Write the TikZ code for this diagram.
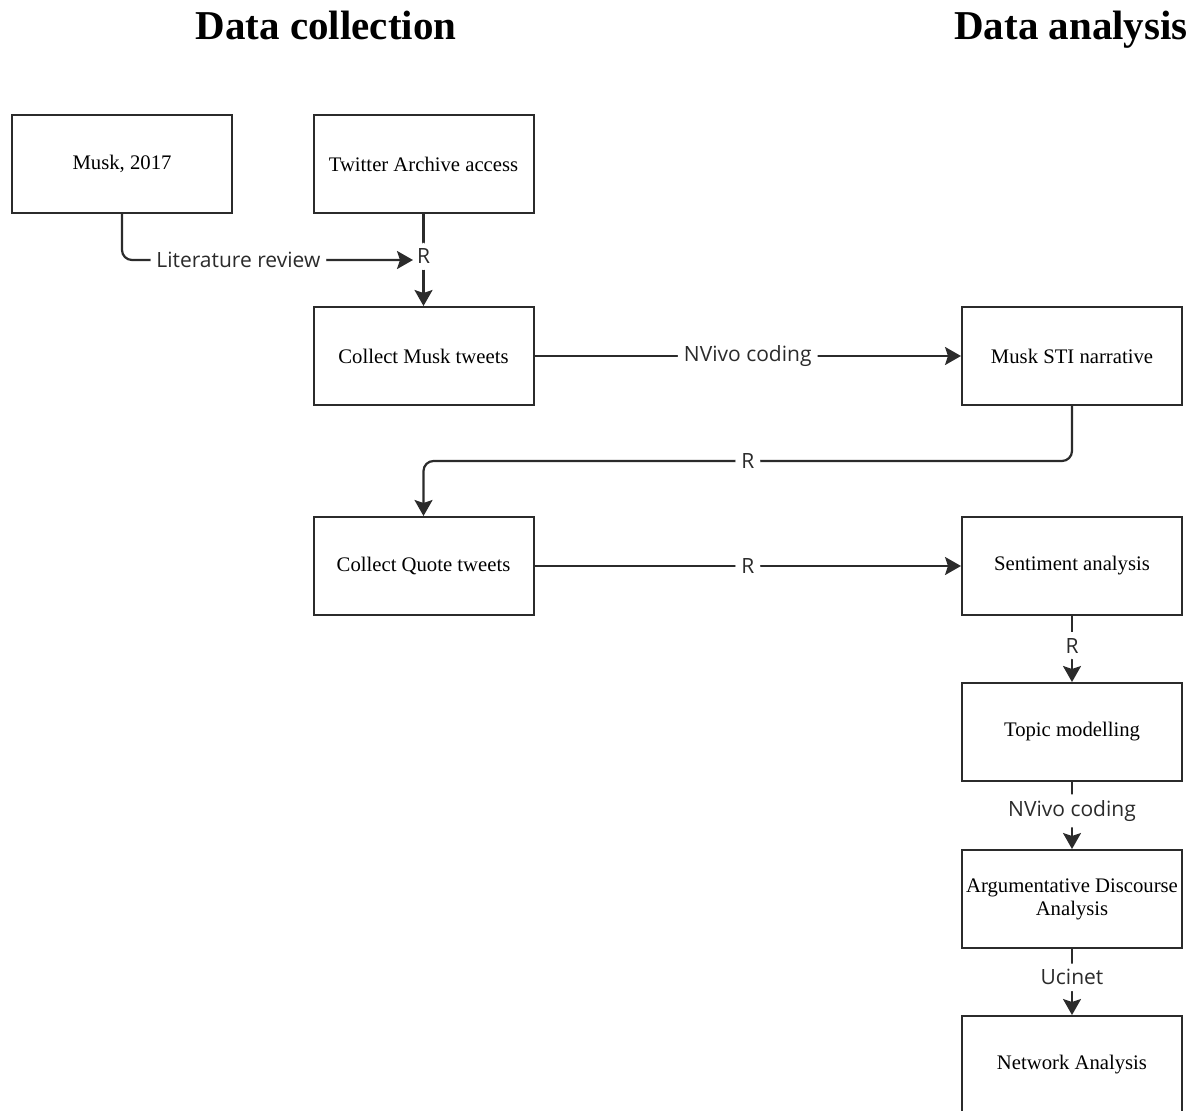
\documentclass[tikz,border=0pt]{standalone}
\usepackage{fontspec}
\setmainfont{Liberation Serif}
\newfontfamily\lblfont{Open Sans}
\usetikzlibrary{arrows.meta}
\definecolor{ln}{HTML}{2B2B2B}
\tikzset{
  box/.style={draw=ln, line width=2pt, minimum width=220pt, minimum height=98pt,
    inner sep=2pt, align=center, font=\fontsize{20.7}{23}\selectfont, text=black},
  title/.style={font=\fontsize{41}{45}\selectfont\bfseries, anchor=base, inner sep=0pt},
  conn/.style={draw=ln, line width=2.2pt, -{Stealth[length=16pt,width=18pt,inset=3pt]}, rounded corners=10pt},
  lbl/.style={fill=white, font=\lblfont\fontsize{21}{24}\selectfont, text=ln, inner xsep=6pt, inner ysep=2pt},
  vlbl/.style={fill=white, font=\lblfont\fontsize{21}{24}\selectfont, text=ln, inner xsep=2pt, inner ysep=6pt}
}
\begin{document}
\begin{tikzpicture}[x=1pt,y=-1pt]
\useasboundingbox (0,0) rectangle (1198,1110);
\clip (0,0) rectangle (1198,1110);
\node[title] (t1) at (326,40) {Data collection};
\node[title] (t2) at (1071,40) {Data analysis};

\node[box] (musk) at (122,164) {Musk, 2017};
\node[box] (arch) at (423.5,164) {Twitter Archive access};
\node[box] (cmt) at (423.5,356) {Collect Musk tweets};
\node[box] (sti) at (1072,356) {Musk STI narrative};
\node[box] (cqt) at (423.5,566) {Collect Quote tweets};
\node[box] (sent) at (1072,566) {Sentiment analysis};
\node[box] (topic) at (1072,732) {Topic modelling};
\node[box] (ada) at (1072,899) {Argumentative Discourse\\Analysis};
\node[box] (net) at (1072,1065) {Network Analysis};

\coordinate (litend) at (413,260);

\draw[conn] (arch.south) -- node[vlbl, pos=0.46] {R} (cmt.north);
\draw[conn] (musk.south) |- node[lbl, pos=0.70] {Literature review} (litend);
\draw[conn] (cmt.east) -- node[lbl] {NVivo coding} (sti.west);
\draw[conn] (sti.south) -- (sti.south |- 0,461) -- node[lbl] {R} (cqt.north |- 0,461) -- (cqt.north);
\draw[conn] (cqt.east) -- node[lbl] {R} (sent.west);
\draw[conn] (sent.south) -- node[vlbl, pos=0.45] {R} (topic.north);
\draw[conn] (topic.south) -- node[vlbl, pos=0.43] {NVivo coding} (ada.north);
\draw[conn] (ada.south) -- node[vlbl, pos=0.43] {Ucinet} (net.north);
\end{tikzpicture}
\end{document}
